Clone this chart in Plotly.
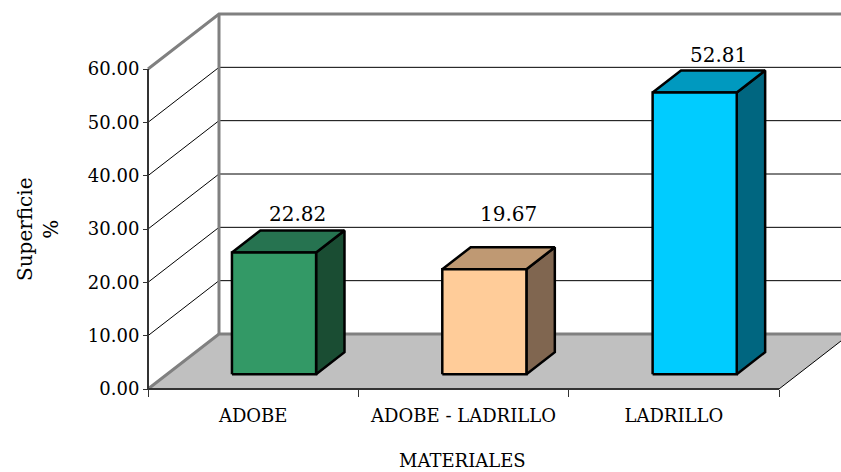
import plotly.graph_objects as go

# ---- data -------------------------------------------------------------
categories = ["ADOBE", "ADOBE - LADRILLO", "LADRILLO"]
superficie = [22.82, 19.67, 52.81]
y_ticks = [0, 10, 20, 30, 40, 50, 60]

# ---- colours (front face, top face, side face) --------------------------
front_colors = ["#339966", "#ffcc99", "#00ccff"]
top_colors = ["#267350", "#bf9973", "#0099bf"]
side_colors = ["#1a4d33", "#806650", "#006680"]
FLOOR = "#c0c0c0"
WALL_EDGE = "#808080"
AXIS = "#333333"
FONT = "DejaVu Serif"

# ---- page / 3-D box geometry (pixels) -----------------------------------
W, H = 841, 472
X_LEFT, X_RIGHT = 148, 779      # front edge of the floor
Y_ZERO, Y_TOP = 389, 69         # front value axis: 0 and top tick
DEPTH_X_PX, DEPTH_Y_PX = 71, 55  # oblique shift of the back wall

n = len(categories)
px_per_cat = (X_RIGHT - X_LEFT) / n
px_per_unit = (Y_ZERO - Y_TOP) / y_ticks[-1]
DX = DEPTH_X_PX / px_per_cat
DY = DEPTH_Y_PX / px_per_unit

x_range = [-0.5 - X_LEFT / px_per_cat, n - 0.5 + (W - X_RIGHT) / px_per_cat]
y_range = [-(H - Y_ZERO) / px_per_unit, Y_ZERO / px_per_unit]

BAR_W = 0.40          # bar width in category units
BAR_OFFSET = 0.008
Z_FRONT, Z_BACK = 0.27, 0.67   # bar depth span (0 = front, 1 = back wall)
Z_LABEL = 0.63
LABEL_SHIFT = [19, 35, 18]     # px above the labelled point

XL, XR = -0.5, n - 0.5
Y_MAX = y_ticks[-1]


def proj(x, y, z):
    return x + z * DX, y + z * DY


fig = go.Figure()


def add_poly(pts, fill, line_color="rgba(0,0,0,0)", line_width=0):
    p = [proj(*q) for q in pts] + [proj(*pts[0])]
    fig.add_trace(go.Scatter(
        x=[a for a, _ in p], y=[b for _, b in p],
        mode="lines", fill="toself", fillcolor=fill,
        line=dict(color=line_color, width=line_width),
        hoverinfo="skip", showlegend=False))


def add_line(pts, color, width):
    p = [proj(*q) for q in pts]
    fig.add_trace(go.Scatter(
        x=[a for a, _ in p], y=[b for _, b in p],
        mode="lines", line=dict(color=color, width=width),
        hoverinfo="skip", showlegend=False))


# floor
add_poly([(XL, 0, 0), (XR, 0, 0), (XR, 0, 1), (XL, 0, 1)], FLOOR)

# grid lines on the side wall and back wall
for v in y_ticks[1:-1]:
    add_line([(XL, v, 0), (XL, v, 1), (XR, v, 1)], "#000000", 1)

# wall edges
add_line([(XL, Y_MAX, 0), (XL, Y_MAX, 1), (XR, Y_MAX, 1)], WALL_EDGE, 3)
add_line([(XL, 0, 0), (XL, 0, 1), (XR, 0, 1)], WALL_EDGE, 3)
add_line([(XL, 0, 1), (XL, Y_MAX, 1)], WALL_EDGE, 3)
add_line([(XR, 0, 0), (XR, 0, 1)], "#000000", 1)

# front axis lines
add_line([(XL, Y_MAX, 0), (XL, 0, 0), (XR, 0, 0)], AXIS, 2)

# bars
for i, v in enumerate(superficie):
    x0 = i - BAR_W / 2 + BAR_OFFSET
    x1 = i + BAR_W / 2 + BAR_OFFSET
    add_poly([(x1, 0, Z_FRONT), (x1, 0, Z_BACK), (x1, v, Z_BACK), (x1, v, Z_FRONT)],
             side_colors[i], "#000000", 2.5)
    add_poly([(x0, v, Z_FRONT), (x1, v, Z_FRONT), (x1, v, Z_BACK), (x0, v, Z_BACK)],
             top_colors[i], "#000000", 2.5)
    add_poly([(x0, 0, Z_FRONT), (x1, 0, Z_FRONT), (x1, v, Z_FRONT), (x0, v, Z_FRONT)],
             front_colors[i], "#000000", 2.5)

# value labels
annotations = []
for i, v in enumerate(superficie):
    lx, ly = proj(i, v, Z_LABEL)
    annotations.append(dict(
        x=lx, y=ly, xref="x", yref="y", text=f"{v:.2f}", showarrow=False,
        xanchor="center", yanchor="middle", yshift=LABEL_SHIFT[i],
        font=dict(family=FONT, size=20, color="#000000")))

# axis titles
annotations.append(dict(
    x=463 / W, y=0, xref="paper", yref="paper",
    text="MATERIALES", showarrow=False, xanchor="center", yanchor="bottom",
    borderpad=0,
    font=dict(family=FONT, size=18, color="#000000")))
annotations.append(dict(
    x=38 / W, y=(H - 229) / H, xref="paper", yref="paper",
    text="Superficie<br>%", showarrow=False, textangle=-90,
    xanchor="center", yanchor="middle",
    font=dict(family=FONT, size=20, color="#000000")))

fig.update_layout(
    width=W, height=H,
    margin=dict(l=0, r=0, t=0, b=0),
    paper_bgcolor="#ffffff", plot_bgcolor="#ffffff",
    showlegend=False,
    annotations=annotations,
    xaxis=dict(
        range=x_range, domain=[0, 1], anchor="free", position=(H - Y_ZERO) / H,
        showgrid=False, zeroline=False, showline=False, fixedrange=True,
        tickmode="array", tickvals=list(range(n)), ticktext=categories,
        ticks="outside", ticklen=10, tickcolor="rgba(0,0,0,0)",
        tickfont=dict(family=FONT, size=18, color="#000000"),
        minor=dict(tickmode="array", tickvals=[i - 0.5 for i in range(n + 1)],
                   ticks="outside", ticklen=7, tickwidth=1, tickcolor=AXIS,
                   showgrid=False),
    ),
    yaxis=dict(
        range=y_range, domain=[0, 1], anchor="free", position=X_LEFT / W,
        showgrid=False, zeroline=False, showline=False, fixedrange=True,
        tickmode="array", tickvals=y_ticks, tickformat=".2f",
        ticks="outside", ticklen=5, tickwidth=1, tickcolor=AXIS,
        tickfont=dict(family=FONT, size=18, color="#000000"),
    ),
)

fig.write_html("out.html", config={"displayModeBar": False})
